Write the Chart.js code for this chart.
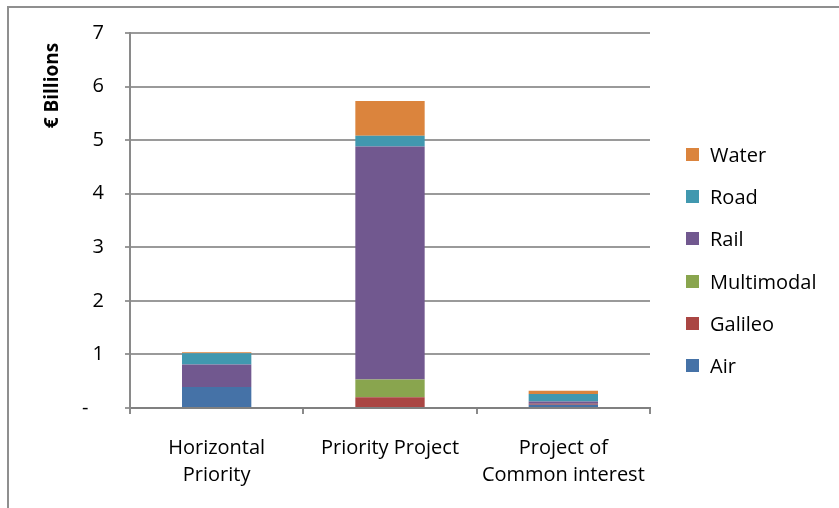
<!DOCTYPE html>
<html><head><meta charset="utf-8">
<script src="https://cdn.jsdelivr.net/npm/chart.js@4"></script>
<style>
html,body{margin:0;padding:0;background:#fff;overflow:hidden;}
#wrap{position:relative;width:839px;height:508px;}
#frame{position:absolute;left:7px;top:6px;width:900px;height:600px;border-left:2px solid #8f8f8f;border-top:2px solid #8f8f8f;}
canvas{position:absolute;left:0;top:0;}
#legend{position:absolute;left:686px;top:148px;font-family:"Open Sans",sans-serif;font-size:20px;color:#000;}
.item{position:relative;height:42.2px;}
.sw{position:absolute;left:0;top:0;width:13px;height:13px;}
.lb{position:absolute;left:24px;top:-6px;line-height:26px;white-space:nowrap;}
</style></head>
<body><div id="wrap"><div id="frame"></div><canvas id="c" width="839" height="508"></canvas><div id="legend"></div></div>
<script>
const categories = [["Horizontal","Priority"], ["Priority Project"], ["Project of","Common interest"]];
const air        = [0.39, 0.00, 0.06];
const galileo    = [0.00, 0.20, 0.02];
const multimodal = [0.00, 0.33, 0.00];
const rail       = [0.42, 4.35, 0.04];
const road       = [0.21, 0.20, 0.14];
const water      = [0.02, 0.65, 0.06];
const seriesNames = ["Air","Galileo","Multimodal","Rail","Road","Water"];
const seriesColors = ["#4572A7","#AA4643","#89A54E","#71588F","#4198AF","#DB843D"];
const yTicks = [0,1,2,3,4,5,6,7];

Chart.defaults.font.family = "'Open Sans', sans-serif";
Chart.defaults.color = "#000";

const values = [air, galileo, multimodal, rail, road, water];
const datasets = values.map((v,i)=>({label:seriesNames[i], data:v, backgroundColor:seriesColors[i], borderWidth:0}));

new Chart(document.getElementById('c'), {
  type:'bar',
  data:{labels:categories, datasets},
  options:{
    responsive:false, animation:false,
    layout:{padding:{top:33,right:189,bottom:0,left:0}},
    plugins:{legend:{display:false}, tooltip:{enabled:false}},
    datasets:{bar:{categoryPercentage:1, barPercentage:0.4}},
    scales:{
      x:{stacked:true,
        grid:{offset:true, drawOnChartArea:false, tickLength:6, color:'#8a8a8a', lineWidth:2},
        border:{color:'#808080', width:2},
        ticks:{font:{size:20, lineHeight:1.35}, padding:21, maxRotation:0, autoSkip:false},
        afterFit:(s)=>{s.height=100;}
      },
      y:{stacked:true, min:0, max:7,
        afterBuildTicks:(s)=>{s.ticks = yTicks.map(v=>({value:v}));},
        grid:{color:'#9a9a9a', lineWidth:2, tickLength:5},
        border:{color:'#8a8a8a', width:2},
        ticks:{font:{size:20}, padding:21, callback:(v)=> v===0 ? '-   ' : String(v)},
        title:{display:true, text:'€ Billions  ', align:'end', font:{size:19, weight:'bold'}, padding:{top:41,bottom:0}},
        afterFit:(s)=>{s.width=130;}
      }
    }
  }
});

const lg = document.getElementById('legend');
for (let i = seriesNames.length-1; i >= 0; i--) {
  const d = document.createElement('div'); d.className='item';
  d.innerHTML = '<div class="sw" style="background:'+seriesColors[i]+'"></div><div class="lb">'+seriesNames[i]+'</div>';
  lg.appendChild(d);
}
</script></body></html>
